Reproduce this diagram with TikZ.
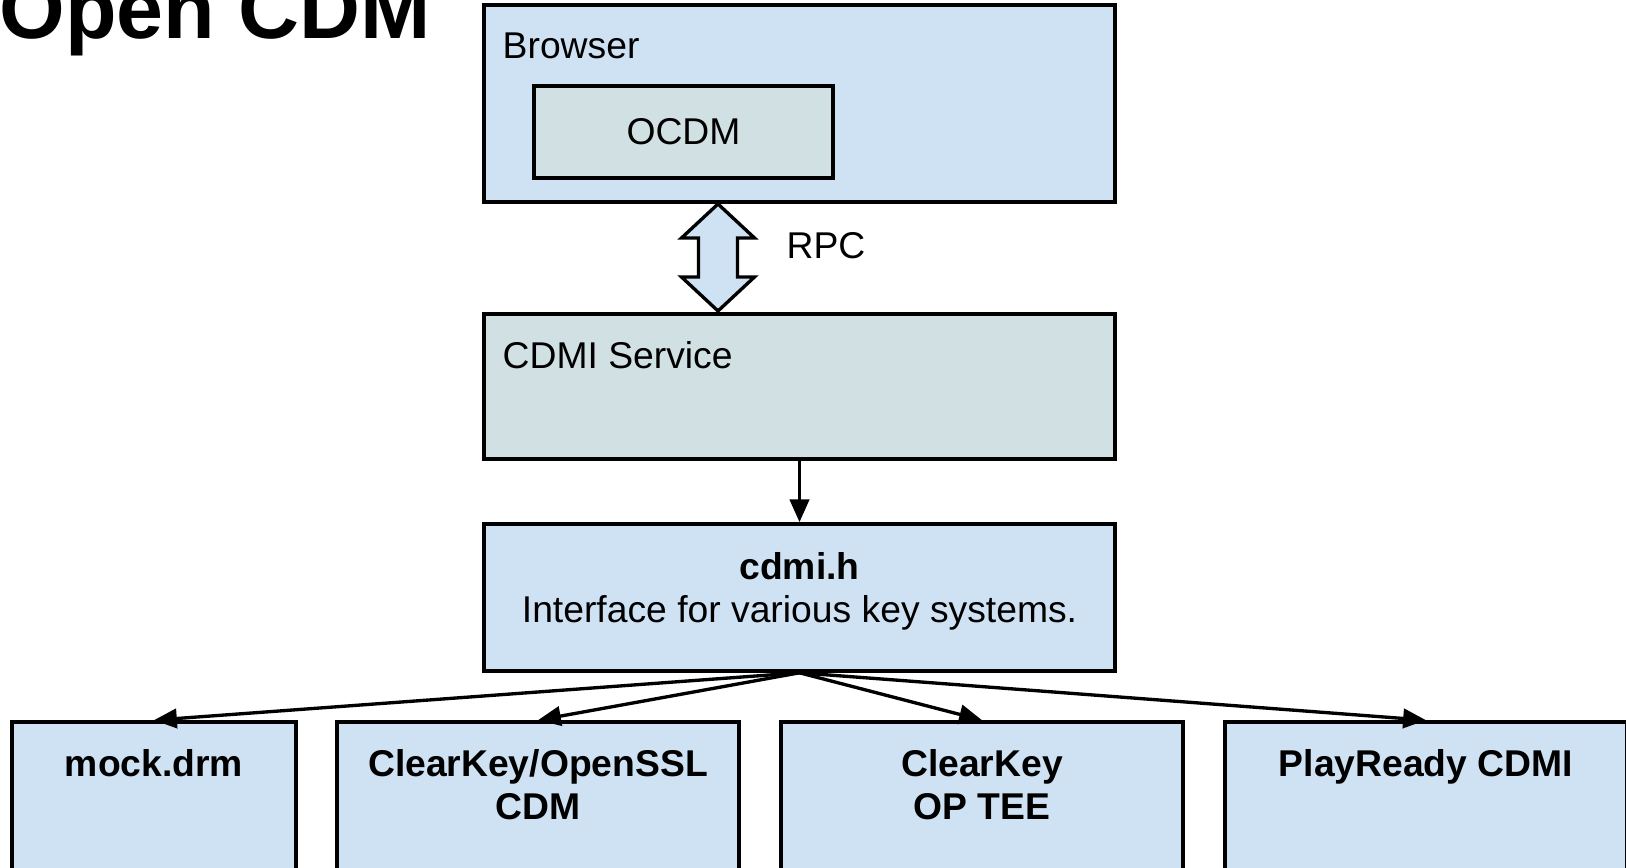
\documentclass[tikz,border=0pt]{standalone}
\usepackage{fontspec}
\setmainfont{Liberation Sans}
\usetikzlibrary{positioning,arrows.meta}
\definecolor{boxblue}{HTML}{CFE2F3}
\definecolor{boxgrey}{HTML}{D0E0E3}
\tikzset{
	box/.style={draw=black, line width=1pt, inner sep=0pt},
	txt/.style={inner sep=0pt, font=\fontsize{10.6}{12.2}\selectfont},
	bold/.style={inner sep=0pt, align=center, font=\fontsize{10.6}{12.2}\selectfont\bfseries},
}

\begin{document}
\begin{tikzpicture}[x=0.01cm, y=-0.01cm, line width=0.95pt, >={Triangle[length=6.5pt,width=5.5pt]}]
	\useasboundingbox (0,0) rectangle (1626,868);
	\fill[white] (0,0) rectangle (1626,868);
	\clip (0,0) rectangle (1626,868);
	
	\node (T)[anchor=base west, inner sep=0pt, font=\fontsize{24}{28}\selectfont\bfseries] at (-2,39) {Open CDM};
	
	\node (B)[box, fill=boxblue, minimum width=6.31cm, minimum height=1.97cm] at (799.5,103.5) {};
	\node (O)[box, fill=boxgrey, minimum width=2.99cm, minimum height=0.92cm, font=\fontsize{10.6}{12.2}\selectfont] at (683.5,132) {OCDM};
	\node (S)[box, fill=boxgrey, minimum width=6.31cm, minimum height=1.45cm] at (799.5,386.5) {};
	\node (H)[box, fill=boxblue, minimum width=6.31cm, minimum height=1.47cm] at (799.5,597.5) {};
	\node (M)[box, fill=boxblue, minimum width=2.84cm, minimum height=1.78cm] at (154,811) {};
	\node (CK)[box, fill=boxblue, minimum width=4.02cm, minimum height=1.78cm] at (538,811) {};
	\node (TEE)[box, fill=boxblue, minimum width=4.02cm, minimum height=1.78cm] at (982,811) {};
	\node (PR)[box, fill=boxblue, minimum width=4.02cm, minimum height=1.78cm] at (1426,811) {};
	
	\node (BL)[txt, below right=0.28cm and 0.19cm of B.north west] {Browser};
	\node (SL)[txt, below right=0.28cm and 0.19cm of S.north west] {CDMI Service};
	\node (RL)[txt, anchor=west] at (785,246) {RPC};
	\node (HL)[txt, align=center, below=0.29cm of H.north] {\textbf{cdmi.h}\\Interface for various key systems.};
	\node (ML)[bold, below=0.28cm of M.north] {mock.drm};
	\node (CKL)[bold, below=0.28cm of CK.north] {ClearKey/OpenSSL\\CDM};
	\node (TEEL)[bold, below=0.28cm of TEE.north] {ClearKey\\OP TEE};
	\node (PRL)[bold, below=0.28cm of PR.north] {PlayReady CDMI};
	
	\draw[fill=boxblue, line join=miter, shift={(718,258)}]
	(0,-54) -- (36.5,-20) -- (19.5,-20) -- (19.5,19) -- (36.5,19) -- (0,53)
	-- (-36.5,19) -- (-19.5,19) -- (-19.5,-20) -- (-36.5,-20) -- cycle;
	
	\draw[->] (S) -- (H);
	\draw[->] (H.south) -- (M.north);
	\draw[->] (H.south) -- (CK.north);
	\draw[->] (H.south) -- (TEE.north);
	\draw[->] (H.south) -- (PR.north);
\end{tikzpicture}
\end{document}
